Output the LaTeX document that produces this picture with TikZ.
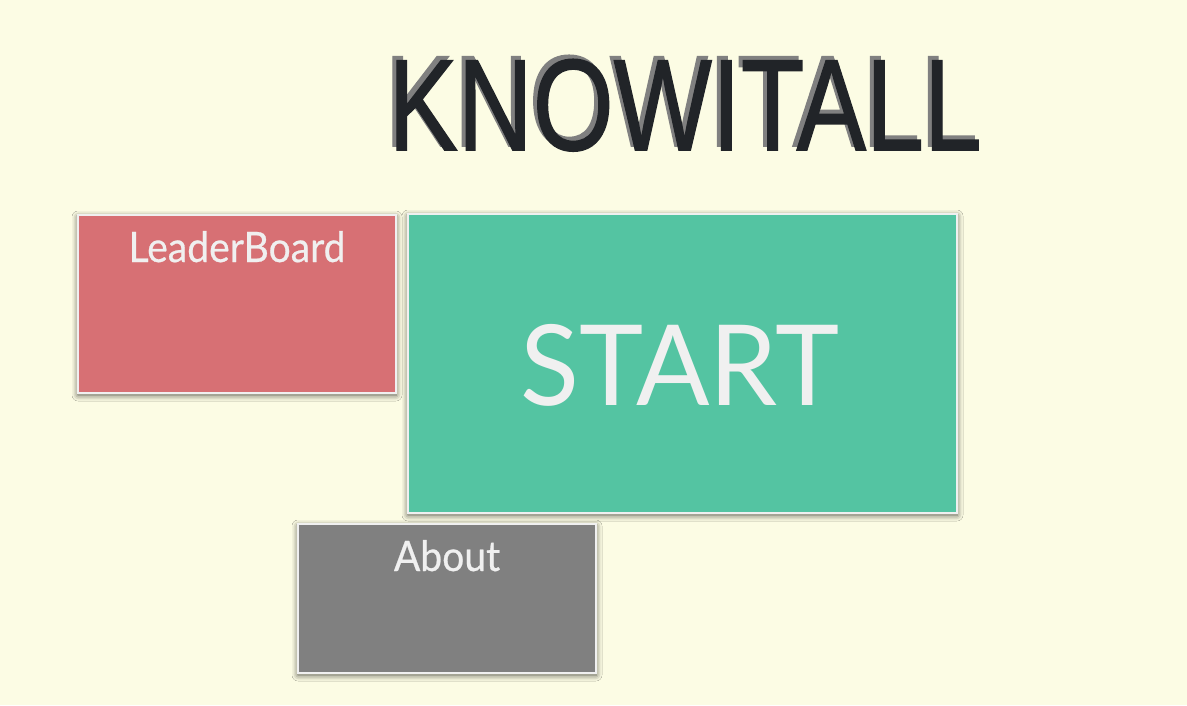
\documentclass[tikz,border=0pt]{standalone}
\usepackage{fontspec}
\setmainfont{Lato}
\newfontfamily\titlefont[FakeBold=1.2]{Liberation Sans}
\newfontfamily\labelfont[FakeBold=0.6]{Lato}
\usetikzlibrary{shadows.blur}
\definecolor{bgcream}{RGB}{252,252,228}
\definecolor{boardred}{RGB}{215,112,116}
\definecolor{startgreen}{RGB}{84,196,162}
\definecolor{aboutgray}{RGB}{128,128,128}
\definecolor{btntext}{RGB}{240,240,240}
\definecolor{titledark}{RGB}{33,36,40}
\definecolor{titleshade}{RGB}{128,128,128}
\newcommand{\titleword}{\scalebox{0.8}[1]{\titlefont\fontsize{130}{130}\selectfont KNOWITALL}}

\begin{document}
\begin{tikzpicture}[x=1pt,y=-1pt,
    button/.style={draw=btntext,line width=2.5pt,inner sep=0pt,
        blur shadow={shadow xshift=0pt,shadow yshift=-2pt,shadow blur radius=6pt,shadow opacity=70}},
    btnlabel/.style={text=btntext,anchor=base,inner sep=0pt}]
        \fill[bgcream] (0,0) rectangle (1187,705);
        \useasboundingbox (0,0) rectangle (1187,705);
        % title with its shadow
        \node[anchor=base,inner sep=0pt,text=titleshade] (titleshadow) at (681,146) {\titleword};
        \node[anchor=base,inner sep=0pt,text=titledark] (title) at (685,150) {\titleword};
        % buttons
        \node[button,fill=boardred,minimum width=318pt,minimum height=178pt] (board) at (237,304) {};
        \node[button,fill=startgreen,minimum width=549pt,minimum height=299pt] (start) at (682.5,363.5) {};
        \node[button,fill=aboutgray,minimum width=298pt,minimum height=149pt] (about) at (447,598.5) {};
        \node[btnlabel] (boardtext) at (237,262) {\scalebox{0.93}[1]{\labelfont\fontsize{42}{42}\selectfont LeaderBoard}};
        \node[btnlabel,font=\fontsize{112}{112}\selectfont] (starttext) at (680,405) {\scalebox{0.97}[1]{START}};
        \node[btnlabel] (abouttext) at (447,571) {\scalebox{0.93}[1]{\labelfont\fontsize{42}{42}\selectfont About}};
    \end{tikzpicture}
\end{document}
